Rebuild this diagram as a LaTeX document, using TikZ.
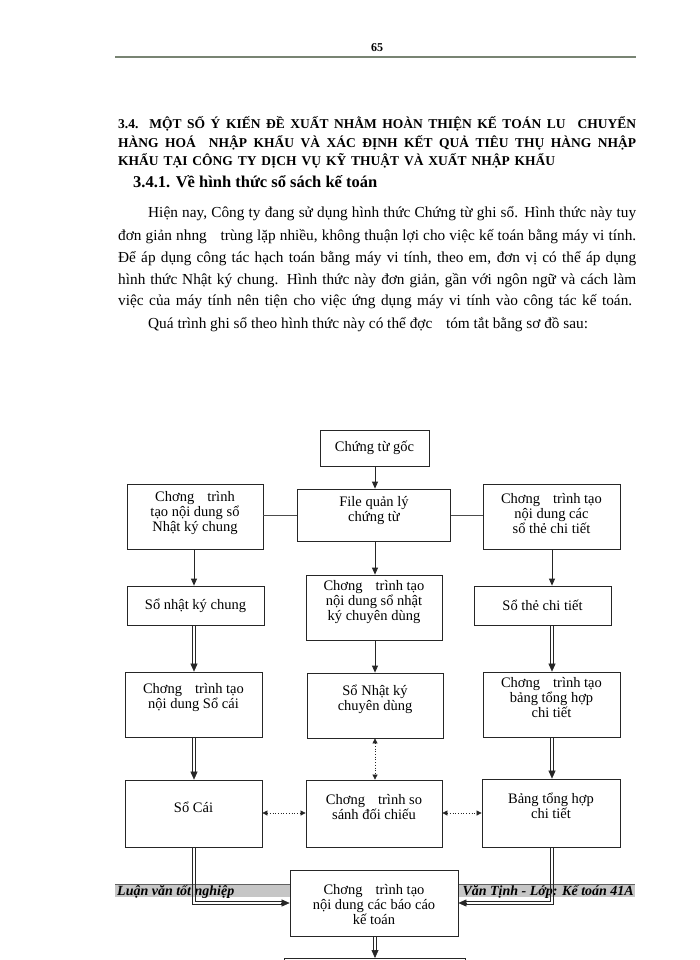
\documentclass[tikz,border=0pt]{standalone}
\usepackage{fontspec}
\setmainfont{Liberation Serif}
\usetikzlibrary{arrows.meta,calc}
\newcommand{\mygap}{\hspace{0.9em}}
\definecolor{hdr}{RGB}{120,132,115}
% double connector, vertical: source node, target node, column coordinate
\newcommand{\dblv}[3]{%
  \draw[thinl] ($(#1.south -| #3)+(-1.3,0)$) -- ($(#2.north -| #3)+(-1.3,-6)$);
  \draw[thinl] ($(#1.south -| #3)+(1.3,0)$) -- ($(#2.north -| #3)+(1.3,-6)$);
  \draw[tip] ($(#2.north -| #3)+(0,-8)$) -- (#2.north -| #3);}
\begin{document}
\begin{tikzpicture}[x=1pt,y=-1pt,
  box/.style={draw=black!85, line width=0.8pt, fill=white, inner sep=0pt},
  btext/.style={align=center, font=\fontsize{14.5}{15}\selectfont, inner sep=0pt},
  arr/.style={draw=black!85, line width=0.8pt, -{Triangle[length=7pt,width=6pt]}},
  thinl/.style={draw=black!85, line width=0.75pt},
  tip/.style={draw=black!85, line width=0.6pt, -{Triangle[length=8pt,width=7pt]}},
  dotarr/.style={draw=black!85, line width=0.7pt, dotted, {Triangle[length=5pt,width=5pt]}-{Triangle[length=5pt,width=5pt]}},
  link/.style={draw=black!70, line width=0.8pt},
  body/.style={anchor=base west, inner sep=0pt, font=\fontsize{15.3}{17}\selectfont},
  ttl/.style={anchor=base west, inner sep=0pt, font=\fontsize{13.5}{15}\bfseries\selectfont},
  foot/.style={inner sep=0pt, font=\fontsize{14}{14}\bfseries\itshape\selectfont}
]
\useasboundingbox (0,0) rectangle (700,960);
\fill[white] (0,0) rectangle (700,960);

% header
\node[anchor=base, inner sep=0pt, font=\fontsize{12}{12}\bfseries\selectfont] (pg) at (377,52) {65};
\draw[line width=2pt, hdr] (115,57) -- (636,57);

% title
\node[ttl] (t1) at (118,129) {\makebox[518pt][s]{3.4. MỘT SỐ Ý KIẾN ĐỀ XUẤT NHẰM HOÀN THIỆN KẾ TOÁN LU\mygap CHUYỂN}};
\node[ttl] (t2) at (118,148) {\makebox[518pt][s]{HÀNG HOÁ\ \ NHẬP KHẨU VÀ XÁC ĐỊNH KẾT QUẢ TIÊU THỤ HÀNG NHẬP}};
\node[ttl] (t3) at (118,165) {\makebox[437pt][s]{KHẨU TẠI CÔNG TY DỊCH VỤ KỸ THUẬT VÀ XUẤT NHẬP KHẨU}};
\node[anchor=base west, inner sep=0pt, font=\fontsize{16.5}{18}\bfseries\selectfont] (h1) at (133,187) {3.4.1. Về hình thức sổ sách kế toán};

% body
\node[body] (b1) at (148,217) {\makebox[488pt][s]{Hiện nay, Công ty đang sử dụng hình thức Chứng từ ghi sổ. Hình thức này tuy}};
\node[body] (b2) at (118,240) {\makebox[518pt][s]{đơn giản nhng\mygap trùng lặp nhiều, không thuận lợi cho việc kế toán bằng máy vi tính.}};
\node[body] (b3) at (118,262) {\makebox[518pt][s]{Để áp dụng công tác hạch toán bằng máy vi tính, theo em, đơn vị có thể áp dụng}};
\node[body] (b4) at (118,284) {\makebox[518pt][s]{hình thức Nhật ký chung. Hình thức này đơn giản, gần với ngôn ngữ và cách làm}};
\node[body] (b5) at (118,305) {\makebox[514pt][s]{việc của máy tính nên tiện cho việc ứng dụng máy vi tính vào công tác kế toán.}};
\node[body] (b6) at (148,328) {Quá trình ghi sổ theo hình thức này có thể đợc\mygap tóm tắt bằng sơ đồ sau:};

% footer band (behind the diagram)
\fill[gray!45] (115,884) rectangle (635,897);
\draw[gray!75!black, line width=0.6pt] (115,884) -- (635,884);
\node[foot, anchor=base west] (fl) at (117,895) {Luận văn tốt nghiệp};
\node[foot, anchor=base east] (fr) at (634,895) {Văn Tịnh - Lớp: Kế toán 41A};

% column coordinates
\coordinate (colL) at (194,0);
\coordinate (colM) at (375,0);
\coordinate (colR) at (552,0);
\coordinate (rowD) at (0,813);

% boxes
\node[box, minimum width=109, minimum height=36] (cg) at (374.5,448) {};
\node[btext] (cg-t) at (cg.center) {Chứng từ gốc};

\node[box, minimum width=153, minimum height=52] (fq) at (374,515) {};
\node[btext] (fq-t) at ([yshift=4pt]fq.center) {File quản lý\\chứng từ};

\node[box, minimum width=136, minimum height=65] (l1) at (195,516.5) {};
\node[btext] (l1-t) at ([yshift=3pt]l1.center) {Chơng\mygap trình\\tạo nội dung sổ\\Nhật ký chung};

\node[box, minimum width=137, minimum height=65] (r1) at (551.5,516.5) {};
\node[btext] (r1-t) at ([yshift=3pt]r1.center) {Chơng\mygap trình tạo\\nội dung các\\sổ thẻ chi tiết};

\node[box, minimum width=137, minimum height=39] (l2) at (195.5,605.5) {};
\node[btext] (l2-t) at (l2.center) {Sổ nhật ký chung};

\node[box, minimum width=136, minimum height=65] (m2) at (374,607.5) {};
\node[btext] (m2-t) at ([yshift=5pt]m2.center) {Chơng\mygap trình tạo\\nội dung sổ nhật\\ký chuyên dùng};

\node[box, minimum width=137, minimum height=39] (r2) at (542.5,605.5) {};
\node[btext] (r2-t) at (r2.center) {Sổ thẻ chi tiết};

\node[box, minimum width=137, minimum height=65] (l3) at (193.5,704.5) {};
\node[btext] (l3-t) at ([yshift=7pt]l3.center) {Chơng\mygap trình tạo\\nội dung Sổ cái};

\node[box, minimum width=136, minimum height=65] (m3) at (375,705.5) {};
\node[btext] (m3-t) at ([yshift=6pt]m3.center) {Sổ Nhật ký\\chuyên dùng};

\node[box, minimum width=137, minimum height=65] (r3) at (551.5,704.5) {};
\node[btext] (r3-t) at ([yshift=7pt]r3.center) {Chơng\mygap trình tạo\\bảng tổng hợp\\chi tiết};

\node[box, minimum width=137, minimum height=67] (l4) at (193.5,813.5) {};
\node[btext] (l4-t) at ([yshift=6pt]l4.center) {Sổ Cái};

\node[box, minimum width=136, minimum height=67] (m4) at (374,813.5) {};
\node[btext] (m4-t) at ([yshift=6pt]m4.center) {Chơng\mygap trình so\\sánh đối chiếu};

\node[box, minimum width=138, minimum height=68] (r4) at (551,813) {};
\node[btext] (r4-t) at ([yshift=7pt]r4.center) {Bảng tổng hợp\\chi tiết};

\node[box, minimum width=168, minimum height=66] (m5) at (374,903) {};
\node[btext] (m5-t) at ([yshift=-2pt]m5.center) {Chơng\mygap trình tạo\\nội dung các báo cáo\\kế toán};

\node[box, minimum width=181, minimum height=40, anchor=north] (bt) at (374.5,958) {};

% connectors
\draw[arr] (cg.south -| colM) -- (fq.north -| colM);
\draw[link] (l1.east |- fq.center) -- (fq.west);
\draw[link] (fq.east) -- (r1.west |- fq.center);

\draw[arr] (l1.south -| colL) -- (l2.north -| colL);
\draw[arr] (fq.south -| colM) -- (m2.north -| colM);
\draw[arr] (r1.south -| colR) -- (r2.north -| colR);

\dblv{l2}{l3}{colL}
\draw[arr] (m2.south -| colM) -- (m3.north -| colM);
\dblv{r2}{r3}{colR}

\dblv{l3}{l4}{colL}
\draw[dotarr] (m3.south -| colM) -- (m4.north -| colM);
\dblv{r3}{r4}{colR}

\draw[dotarr] (l4.east |- rowD) -- (m4.west |- rowD);
\draw[dotarr] (m4.east |- rowD) -- (r4.west |- rowD);

% double connectors into the report box
\draw[thinl] ($(l4.south -| colL)+(-1.3,0)$) |- ($(m5.west)+(-7,1.3)$);
\draw[thinl] ($(l4.south -| colL)+(1.3,0)$) |- ($(m5.west)+(-7,-1.3)$);
\draw[tip] ($(m5.west)+(-9,0)$) -- (m5.west);
\draw[thinl] ($(r4.south -| colR)+(1.3,0)$) |- ($(m5.east)+(7,1.3)$);
\draw[thinl] ($(r4.south -| colR)+(-1.3,0)$) |- ($(m5.east)+(7,-1.3)$);
\draw[tip] ($(m5.east)+(9,0)$) -- (m5.east);

\dblv{m5}{bt}{colM}
\end{tikzpicture}
\end{document}
